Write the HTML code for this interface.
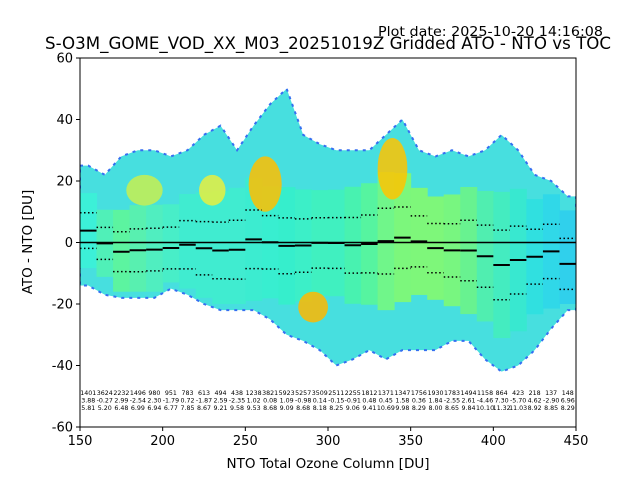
<!DOCTYPE html>
<html><head><meta charset="utf-8"><style>
body{margin:0;background:#fff;}
svg text{font-family:"DejaVu Sans","Liberation Sans",sans-serif;}
</style></head><body>
<svg id="chart" width="640" height="480" viewBox="0 0 640 480" xmlns="http://www.w3.org/2000/svg">
<rect width="640" height="480" fill="#fff"/>
<text x="603" y="36" font-size="13" text-anchor="end" textLength="225" lengthAdjust="spacingAndGlyphs">Plot date: 2025-10-20 14:16:08</text>
<text x="328" y="49" font-size="16.5" text-anchor="middle" textLength="566" lengthAdjust="spacingAndGlyphs">S-O3M_GOME_VOD_XX_M03_20251019Z Gridded ATO - NTO vs TOC</text>
<g id="plot"></g>
<text x="328" y="468" font-size="13.5" text-anchor="middle">NTO Total Ozone Column [DU]</text>
<text transform="translate(32,242) rotate(-90)" font-size="13.5" text-anchor="middle">ATO - NTO [DU]</text>
</svg>
<script>
const binStarts=[150,160,170,180,190,200,210,220,230,240,250,260,270,280,290,300,310,320,330,340,350,360,370,380,390,400,410,420,430,440];
const counts=["1401","3624","2232","1496","980","951","783","613","494","438","1238","3821","5923","5257","3509","2511","2255","1812","1371","1347","1756","1930","1783","1494","1158","864","423","218","137","148"];
const means=[3.88,-0.27,-2.99,-2.54,-2.30,-1.79,-0.72,-1.87,-2.59,-2.35,1.02,0.08,-1.09,-0.98,-0.14,-0.15,-0.91,-0.48,0.45,1.58,0.36,-1.84,-2.55,-2.61,-4.46,-7.30,-5.70,-4.62,-2.90,-6.96];
const meanLabels=["3.88","-0.27","2.99","-2.54","2.30","-1.79","0.72","-1.87","2.59","-2.35","1.02","0.08","1.09","-0.98","0.14","-0.15","-0.91","0.48","0.45","1.58","0.36","1.84","-2.55","2.61","-4.46","7.30","-5.70","4.62","-2.90","6.96"];
const stds=[5.81,5.20,6.48,6.99,6.94,6.77,7.85,8.67,9.21,9.58,9.53,8.68,9.09,8.68,8.18,8.25,9.06,9.41,10.69,9.98,8.29,8.00,8.65,9.84,10.10,11.32,11.03,8.92,8.85,8.29];
const binMax=[25,22,28,30,30,28,30,35,38,30,38,45,50,35,32,30,30,30,35,40,30,28,30,28,30,35,30,22,20,15];
const binMin=[-14,-17,-18,-18,-18,-15,-17,-20,-22,-22,-22,-25,-30,-32,-35,-40,-38,-35,-38,-35,-35,-35,-32,-32,-38,-42,-40,-35,-28,-22];
const innerColors=["#3cf0d8","#50f0b8","#5cf4a0","#58f0b0","#50eec0","#48eec8","#40ecd0","#40ecd0","#40ecd0","#40ecd0","#3cecd0","#38eed0","#36eecc","#3cefc8","#40f0c0","#40f0c0","#48f2b0","#56f4a0","#70f68a","#7cf77c","#7ef77a","#7ef77a","#78f680","#68f290","#50eeb0","#44ecc0","#38e8d0","#30e0e0","#30d8e8","#30d0ec"];
const xTicks=[150,200,250,300,350,400,450];
const yTicks=[-60,-40,-20,0,20,40,60];
const L=80,R=576,T=58,B=427;
const xs=v=>L+(v-150)*(R-L)/300;
const ys=v=>T+(60-v)*(B-T)/120;
const NS="http://www.w3.org/2000/svg";
const g=document.getElementById('plot');
function mk(t,a){const e=document.createElementNS(NS,t);for(const k in a)e.setAttribute(k,a[k]);g.appendChild(e);return e;}
const clip=document.createElementNS(NS,'clipPath');clip.setAttribute('id','pc');
const cr=document.createElementNS(NS,'rect');cr.setAttribute('x',L);cr.setAttribute('y',T);cr.setAttribute('width',R-L);cr.setAttribute('height',B-T);clip.appendChild(cr);g.appendChild(clip);
const cg=mk('g',{'clip-path':'url(#pc)'});
function add(t,a,parent){const e=document.createElementNS(NS,t);for(const k in a)e.setAttribute(k,a[k]);(parent||cg).appendChild(e);return e;}
let topPts=[],botPts=[];
binStarts.forEach((b,i)=>{topPts.push((xs(b)+xs(b+10))/2+','+ys(binMax[i]));botPts.push((xs(b)+xs(b+10))/2+','+ys(binMin[i]));});
topPts.unshift(xs(150)+','+ys(binMax[0]));botPts.unshift(xs(150)+','+ys(binMin[0]));
topPts.push(xs(450)+','+ys(binMax[29]));botPts.push(xs(450)+','+ys(binMin[29]));
const env=add('polygon',{points:topPts.concat(botPts.reverse()).join(' '),fill:'#34dcdc',stroke:'#2060f0','stroke-width':2,'stroke-dasharray':'3,5',opacity:'0.9'});


binStarts.forEach((b,i)=>{
  const hi=Math.min(binMax[i]-2,means[i]+2.1*stds[i]),lo=Math.max(binMin[i]+2,means[i]-2.1*stds[i]);
  const r=add('rect',{x:xs(b),y:ys(hi),width:xs(b+10)-xs(b)+0.5,height:ys(lo)-ys(hi),fill:innerColors[i]});
  
  
});
const patchX=[[252,272],[330,348],[282,300],[222,238],[178,200]];
const patchY=[[28,10],[34,14],[-16,-26],[22,12],[22,12]];
const patchC=["#ffc000","#ffc400","#ffb800","#e8f040","#c8f050"];
patchX.forEach((p,i)=>{
  const e=add('ellipse',{cx:xs((p[0]+p[1])/2),cy:ys((patchY[i][0]+patchY[i][1])/2),rx:(xs(p[1])-xs(p[0]))/2,ry:(ys(patchY[i][1])-ys(patchY[i][0]))/2,fill:patchC[i],opacity:'0.85'});
  
  
});
const z=add('line',{x1:L,x2:R,y1:ys(0),y2:ys(0),stroke:'#000','stroke-width':1.5});


binStarts.forEach((b,i)=>{
  const m=add('line',{x1:xs(b),x2:xs(b+10),y1:ys(means[i]),y2:ys(means[i]),stroke:'#000','stroke-width':2});
  
  
  [1,-1].forEach(s=>{
    const d=add('line',{x1:xs(b),x2:xs(b+10),y1:ys(means[i]+s*stds[i]),y2:ys(means[i]+s*stds[i]),stroke:'#000','stroke-width':1.5,'stroke-dasharray':'1.5,2.5'});
    
    
  });
  const cx=(xs(b)+xs(b+10))/2;
  [[counts[i],395],[meanLabels[i],402.5],[stds[i].toFixed(2),410]].forEach(t=>{
    const tx=add('text',{x:cx,y:t[1],'font-size':'6.3','text-anchor':'middle'});
    tx.textContent=t[0];
    
    
  });
});
const fr=mk('rect',{x:L,y:T,width:R-L,height:B-T,fill:'none',stroke:'#000','stroke-width':1});


xTicks.forEach(v=>{
  mk('line',{x1:xs(v),x2:xs(v),y1:B,y2:B+4,stroke:'#000'});
  const t=mk('text',{x:xs(v),y:B+18,'font-size':'13','text-anchor':'middle'});t.textContent=v;
  
  
});
yTicks.forEach(v=>{
  mk('line',{x1:L-4,x2:L,y1:ys(v),y2:ys(v),stroke:'#000'});
  const t=mk('text',{x:L-7,y:ys(v)+4.5,'font-size':'13','text-anchor':'end'});t.textContent=v;
  
  
});
</script>
</body></html>
